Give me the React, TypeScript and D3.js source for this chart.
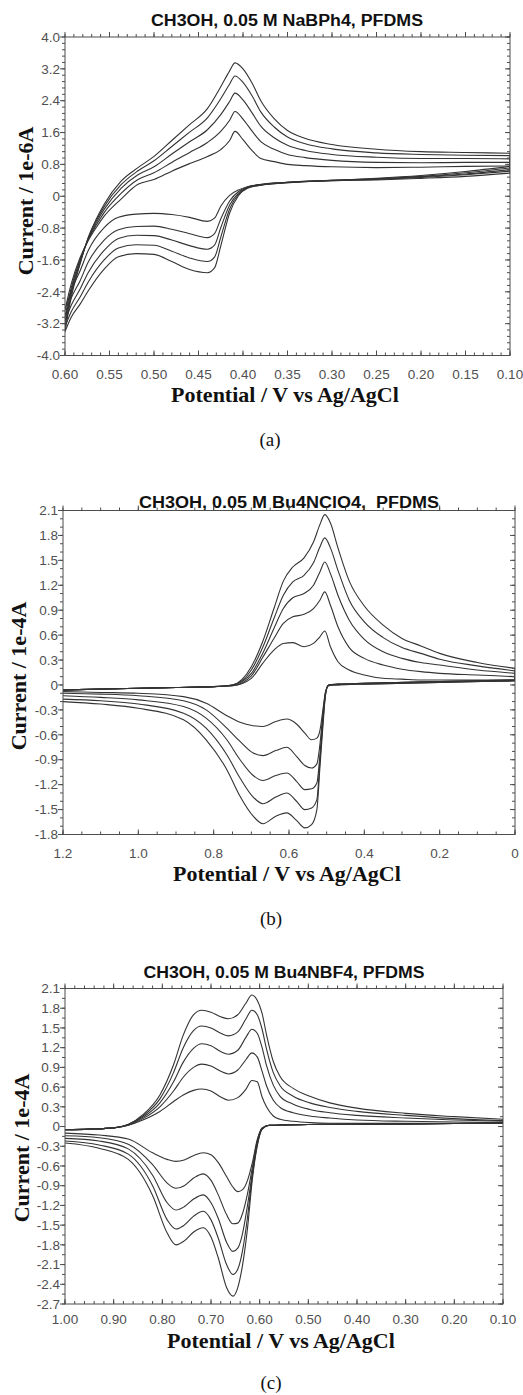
import React from "react";
import * as d3 from "d3";

// ---------- Panel (a) ----------
const aTitle = "CH3OH, 0.05 M NaBPh4, PFDMS";
const aYLabel = "Current / 1e-6A";
const aXTicks = [0.6, 0.55, 0.5, 0.45, 0.4, 0.35, 0.3, 0.25, 0.2, 0.15, 0.1];
const aXTickLabels = ["0.60", "0.55", "0.50", "0.45", "0.40", "0.35", "0.30", "0.25", "0.20", "0.15", "0.10"];
const aYTicks = [4.0, 3.2, 2.4, 1.6, 0.8, 0, -0.8, -1.6, -2.4, -3.2, -4.0];
const aYTickLabels = ["4.0", "3.2", "2.4", "1.6", "0.8", "0", "-0.8", "-1.6", "-2.4", "-3.2", "-4.0"];
const aUpperV = [0.6, 0.593, 0.583, 0.574, 0.565, 0.556, 0.537, 0.518, 0.5, 0.48, 0.46, 0.44, 0.425, 0.415, 0.409, 0.4, 0.39, 0.38, 0.365, 0.35, 0.33, 0.3, 0.25, 0.2, 0.15, 0.1];
const aUpper = [
  [-3.4, -2.54, -1.7, -1.04, -0.58, -0.2, 0.38, 0.72, 1.0, 1.4, 1.8, 2.2, 2.75, 3.15, 3.35, 3.2, 2.85, 2.4, 1.95, 1.65, 1.45, 1.3, 1.18, 1.12, 1.1, 1.08],
  [-3.28, -2.45, -1.67, -1.06, -0.62, -0.26, 0.29, 0.64, 0.89, 1.25, 1.61, 1.97, 2.45, 2.82, 3.02, 2.86, 2.53, 2.12, 1.74, 1.49, 1.32, 1.19, 1.09, 1.05, 1.03, 1.02],
  [-3.15, -2.38, -1.63, -1.08, -0.67, -0.33, 0.2, 0.54, 0.74, 1.06, 1.37, 1.67, 2.05, 2.38, 2.59, 2.42, 2.1, 1.76, 1.47, 1.28, 1.15, 1.05, 0.98, 0.95, 0.95, 0.94],
  [-3.02, -2.3, -1.59, -1.1, -0.73, -0.41, 0.07, 0.42, 0.59, 0.85, 1.1, 1.35, 1.63, 1.91, 2.13, 1.94, 1.64, 1.37, 1.18, 1.05, 0.97, 0.9, 0.85, 0.84, 0.85, 0.85],
  [-2.85, -2.2, -1.54, -1.12, -0.79, -0.5, -0.07, 0.3, 0.42, 0.63, 0.82, 1.0, 1.17, 1.4, 1.63, 1.42, 1.15, 0.95, 0.87, 0.8, 0.77, 0.74, 0.72, 0.73, 0.75, 0.76],
];
const aLowerV = [0.1, 0.15, 0.2, 0.25, 0.3, 0.35, 0.38, 0.395, 0.405, 0.415, 0.425, 0.432, 0.44, 0.46, 0.48, 0.5, 0.52, 0.54, 0.556, 0.574, 0.583, 0.593, 0.6];
const aLower = [
  [0.75, 0.62, 0.52, 0.45, 0.4, 0.34, 0.28, 0.2, 0.02, -0.42, -1.25, -1.8, -1.92, -1.84, -1.64, -1.46, -1.44, -1.52, -1.83, -2.38, -2.71, -3.04, -3.4],
  [0.71, 0.59, 0.5, 0.44, 0.4, 0.34, 0.28, 0.21, 0.05, -0.32, -1.03, -1.53, -1.64, -1.55, -1.38, -1.23, -1.22, -1.3, -1.6, -2.16, -2.53, -2.9, -3.28],
  [0.67, 0.56, 0.49, 0.43, 0.4, 0.35, 0.29, 0.22, 0.08, -0.22, -0.79, -1.23, -1.33, -1.24, -1.1, -0.99, -0.98, -1.06, -1.36, -1.92, -2.33, -2.74, -3.15],
  [0.63, 0.54, 0.47, 0.42, 0.39, 0.35, 0.29, 0.23, 0.12, -0.12, -0.57, -0.94, -1.04, -0.94, -0.83, -0.75, -0.76, -0.84, -1.1, -1.66, -2.12, -2.56, -3.02],
  [0.58, 0.5, 0.45, 0.41, 0.39, 0.35, 0.3, 0.24, 0.16, 0.02, -0.25, -0.55, -0.63, -0.53, -0.46, -0.43, -0.45, -0.53, -0.79, -1.37, -1.87, -2.38, -2.85],
];

// ---------- Panel (b) ----------
const bTitle = "CH3OH, 0.05 M Bu4NClO4,  PFDMS";
const bYLabel = "Current / 1e-4A";
const bXTicks = [1.2, 1.0, 0.8, 0.6, 0.4, 0.2, 0];
const bXTickLabels = ["1.2", "1.0", "0.8", "0.6", "0.4", "0.2", "0"];
const bYTicks = [2.1, 1.8, 1.5, 1.2, 0.9, 0.6, 0.3, 0, -0.3, -0.6, -0.9, -1.2, -1.5, -1.8];
const bYTickLabels = ["2.1", "1.8", "1.5", "1.2", "0.9", "0.6", "0.3", "0", "-0.3", "-0.6", "-0.9", "-1.2", "-1.5", "-1.8"];
const bUpperV = [1.2, 1.0, 0.9, 0.8, 0.75, 0.7, 0.67, 0.64, 0.615, 0.59, 0.56, 0.535, 0.518, 0.505, 0.49, 0.47, 0.44, 0.4, 0.35, 0.3, 0.25, 0.2, 0.1, 0.0];
const bUpper = [
  [-0.06, -0.04, -0.03, -0.02, 0.0, 0.22, 0.52, 0.92, 1.25, 1.42, 1.53, 1.72, 1.93, 2.05, 1.95, 1.65, 1.25, 0.95, 0.72, 0.56, 0.47, 0.38, 0.27, 0.2],
  [-0.06, -0.04, -0.03, -0.02, 0.0, 0.18, 0.45, 0.8, 1.08, 1.24, 1.32, 1.47, 1.66, 1.77, 1.65, 1.38, 1.02, 0.76, 0.57, 0.45, 0.38, 0.31, 0.23, 0.17],
  [-0.06, -0.04, -0.03, -0.02, 0.0, 0.14, 0.38, 0.68, 0.92, 1.05, 1.1, 1.2, 1.36, 1.48, 1.34, 1.08, 0.78, 0.55, 0.4, 0.32, 0.27, 0.24, 0.18, 0.14],
  [-0.06, -0.04, -0.03, -0.02, -0.01, 0.11, 0.33, 0.56, 0.74, 0.82, 0.85, 0.92, 1.02, 1.12, 0.96, 0.7, 0.45, 0.32, 0.24, 0.19, 0.16, 0.14, 0.12, 0.1],
  [-0.06, -0.04, -0.03, -0.02, -0.01, 0.08, 0.26, 0.42, 0.5, 0.51, 0.46, 0.5, 0.58, 0.65, 0.46, 0.28, 0.18, 0.12, 0.08, 0.07, 0.06, 0.06, 0.06, 0.06],
];
const bLowerV = [0.0, 0.2, 0.4, 0.47, 0.495, 0.503, 0.51, 0.518, 0.526, 0.54, 0.558, 0.58, 0.606, 0.635, 0.669, 0.695, 0.73, 0.765, 0.82, 0.88, 1.0, 1.1, 1.2];
const bLower = [
  [0.06, 0.04, 0.02, 0.01, 0.0, -0.12, -0.5, -1.0, -1.5, -1.68, -1.72, -1.63, -1.54, -1.58, -1.67, -1.58, -1.34, -1.02, -0.66, -0.42, -0.28, -0.23, -0.2],
  [0.06, 0.04, 0.02, 0.01, 0.0, -0.11, -0.45, -0.92, -1.38, -1.48, -1.5, -1.4, -1.3, -1.35, -1.43, -1.35, -1.12, -0.84, -0.52, -0.34, -0.23, -0.19, -0.17],
  [0.05, 0.04, 0.02, 0.01, 0.0, -0.1, -0.4, -0.85, -1.18, -1.25, -1.26, -1.16, -1.06, -1.09, -1.15, -1.09, -0.9, -0.66, -0.4, -0.26, -0.18, -0.15, -0.13],
  [0.05, 0.03, 0.01, 0.0, -0.01, -0.09, -0.35, -0.72, -0.95, -1.0, -0.97, -0.86, -0.75, -0.79, -0.85, -0.82, -0.68, -0.52, -0.3, -0.19, -0.13, -0.11, -0.1],
  [0.05, 0.03, 0.01, 0.0, -0.01, -0.08, -0.3, -0.55, -0.64, -0.66, -0.58, -0.47, -0.41, -0.44, -0.5, -0.49, -0.45, -0.37, -0.22, -0.14, -0.1, -0.09, -0.08],
];

// ---------- Panel (c) ----------
const cTitle = "CH3OH, 0.05 M Bu4NBF4, PFDMS";
const cYLabel = "Current / 1e-4A";
const cXTicks = [1.0, 0.9, 0.8, 0.7, 0.6, 0.5, 0.4, 0.3, 0.2, 0.1];
const cXTickLabels = ["1.00", "0.90", "0.80", "0.70", "0.60", "0.50", "0.40", "0.30", "0.20", "0.10"];
const cYTicks = [2.1, 1.8, 1.5, 1.2, 0.9, 0.6, 0.3, 0, -0.3, -0.6, -0.9, -1.2, -1.5, -1.8, -2.1, -2.4, -2.7];
const cYTickLabels = ["2.1", "1.8", "1.5", "1.2", "0.9", "0.6", "0.3", "0", "-0.3", "-0.6", "-0.9", "-1.2", "-1.5", "-1.8", "-2.1", "-2.4", "-2.7"];
const cUpperV = [1.0, 0.95, 0.9, 0.87, 0.84, 0.805, 0.777, 0.757, 0.736, 0.719, 0.7, 0.68, 0.664, 0.645, 0.628, 0.616, 0.605, 0.595, 0.586, 0.572, 0.558, 0.531, 0.497, 0.456, 0.4, 0.3, 0.2, 0.1];
const cUpper = [
  [-0.05, -0.04, -0.02, 0.03, 0.18, 0.48, 0.94, 1.39, 1.7, 1.77, 1.74, 1.67, 1.64, 1.7, 1.88, 2.0, 1.92, 1.72, 1.4, 0.99, 0.76, 0.58, 0.46, 0.36, 0.28, 0.2, 0.15, 0.11],
  [-0.05, -0.04, -0.02, 0.03, 0.16, 0.42, 0.82, 1.2, 1.46, 1.53, 1.5, 1.42, 1.38, 1.44, 1.64, 1.77, 1.7, 1.48, 1.18, 0.82, 0.62, 0.46, 0.36, 0.29, 0.23, 0.17, 0.12, 0.09],
  [-0.05, -0.04, -0.02, 0.03, 0.14, 0.36, 0.68, 0.98, 1.19, 1.26, 1.23, 1.14, 1.1, 1.16, 1.36, 1.48, 1.42, 1.2, 0.93, 0.63, 0.46, 0.34, 0.26, 0.21, 0.17, 0.13, 0.1, 0.08],
  [-0.05, -0.04, -0.02, 0.02, 0.12, 0.3, 0.54, 0.75, 0.9, 0.95, 0.92, 0.84, 0.8, 0.86, 1.02, 1.12, 1.06, 0.84, 0.62, 0.4, 0.29, 0.21, 0.16, 0.13, 0.1, 0.08, 0.07, 0.06],
  [-0.05, -0.04, -0.02, 0.02, 0.1, 0.23, 0.38, 0.48, 0.55, 0.57, 0.54, 0.45, 0.4, 0.44, 0.57, 0.7, 0.68, 0.45, 0.3, 0.16, 0.11, 0.08, 0.06, 0.05, 0.05, 0.05, 0.05, 0.05],
];
const cLowerV = [0.1, 0.3, 0.5, 0.58, 0.595, 0.605, 0.615, 0.625, 0.635, 0.645, 0.655, 0.668, 0.685, 0.7, 0.716, 0.735, 0.755, 0.772, 0.79, 0.82, 0.87, 0.93, 1.0];
const cLower = [
  [0.05, 0.04, 0.03, 0.02, -0.04, -0.3, -0.8, -1.55, -2.1, -2.45, -2.58, -2.45, -2.0, -1.68, -1.54, -1.6, -1.74, -1.8, -1.62, -1.05, -0.5, -0.33, -0.25],
  [0.05, 0.04, 0.03, 0.02, -0.04, -0.28, -0.75, -1.38, -1.88, -2.17, -2.25, -2.1, -1.7, -1.42, -1.29, -1.36, -1.5, -1.56, -1.42, -0.9, -0.42, -0.28, -0.22],
  [0.05, 0.04, 0.03, 0.02, -0.03, -0.25, -0.7, -1.2, -1.62, -1.85, -1.9, -1.76, -1.4, -1.16, -1.04, -1.1, -1.22, -1.27, -1.16, -0.74, -0.34, -0.22, -0.18],
  [0.05, 0.04, 0.03, 0.02, -0.03, -0.22, -0.62, -1.02, -1.32, -1.47, -1.48, -1.34, -1.04, -0.82, -0.72, -0.78, -0.9, -0.94, -0.86, -0.58, -0.27, -0.17, -0.14],
  [0.05, 0.04, 0.03, 0.02, -0.02, -0.2, -0.55, -0.82, -0.96, -0.99, -0.92, -0.76, -0.55, -0.43, -0.4, -0.44, -0.51, -0.53, -0.5, -0.4, -0.19, -0.13, -0.1],
];

const XLABEL = "Potential / V vs Ag/AgCl";

type PanelProps = {
  id: string;
  title: string;
  titleX: number;
  titleY: number;
  titleW: number;
  left: number;
  right: number;
  top: number;
  bottom: number;
  xDomain: [number, number];
  yDomain: [number, number];
  xTicks: number[];
  xTickLabels: string[];
  xMinor: number[];
  yTicks: number[];
  yTickLabels: string[];
  yMinor: number[];
  xTickLabelY: number;
  xLabelX: number;
  xLabelY: number;
  yLabel: string;
  yLabelX: number;
  yLabelY: number;
  caption: string;
  captionX: number;
  captionY: number;
  upperV: number[];
  upper: number[][];
  lowerV: number[];
  lower: number[][];
};

const AXIS = "#4d4d4d";
const TICKTXT = "#505050";
const CURVE = "#333";

function Panel(p: PanelProps) {
  const x = d3.scaleLinear().domain(p.xDomain).range([p.left, p.right]);
  const y = d3.scaleLinear().domain(p.yDomain).range([p.bottom, p.top]);
  const line = d3
    .line<[number, number]>()
    .x((d) => d[0])
    .y((d) => d[1])
    .curve(d3.curveMonotoneX);
  const branch = (vs: number[], is: number[]) => {
    const pts: [number, number][] = vs.map((v, i) => [x(v), y(is[i])]);
    return pts.slice().sort((a, b) => a[0] - b[0]);
  };
  const major = 5;
  const minor = 3;
  return (
    <g>
      <defs>
        <clipPath id={p.id + "-clip"}>
          <rect x={p.left} y={p.top} width={p.right - p.left} height={p.bottom - p.top} />
        </clipPath>
      </defs>
      <text
        x={p.titleX}
        y={p.titleY}
        textAnchor="middle"
        fontFamily="'Liberation Sans', Arial, sans-serif"
        fontWeight="bold"
        fontSize={16}
        fill="#111"
        textLength={p.titleW}
        lengthAdjust="spacingAndGlyphs"
        style={{ whiteSpace: "pre" }}
      >
        {p.title}
      </text>
      {/* curves */}
      <g clipPath={`url(#${p.id}-clip)`} fill="none" stroke={CURVE} strokeWidth={1.1}>
        {p.upper.map((u, k) => {
          const up = p.upperV.map((v, i) => [x(v), y(u[i])] as [number, number]);
          const lo = p.lowerV.map((v, i) => [x(v), y(p.lower[k][i])] as [number, number]);
          const upEnd = up[up.length - 1];
          const loStart = lo[0];
          return (
            <g key={k}>
              <path d={line(branch(p.upperV, u)) || ""} />
              <path d={line(branch(p.lowerV, p.lower[k])) || ""} />
              <line x1={upEnd[0]} y1={upEnd[1]} x2={loStart[0]} y2={loStart[1]} />
            </g>
          );
        })}
      </g>
      {/* frame */}
      <rect
        x={p.left}
        y={p.top}
        width={p.right - p.left}
        height={p.bottom - p.top}
        fill="none"
        stroke={AXIS}
        strokeWidth={1}
      />
      {/* ticks */}
      <g stroke={AXIS} strokeWidth={1}>
        {p.xMinor.map((v, i) => (
          <g key={"xm" + i}>
            <line x1={x(v)} x2={x(v)} y1={p.top} y2={p.top - minor} />
            <line x1={x(v)} x2={x(v)} y1={p.bottom} y2={p.bottom - minor} />
          </g>
        ))}
        {p.xTicks.map((v, i) => (
          <g key={"xM" + i}>
            <line x1={x(v)} x2={x(v)} y1={p.top} y2={p.top - major} />
            <line x1={x(v)} x2={x(v)} y1={p.bottom} y2={p.bottom - major} />
          </g>
        ))}
        {p.yMinor.map((v, i) => (
          <g key={"ym" + i}>
            <line x1={p.left - minor} x2={p.left} y1={y(v)} y2={y(v)} />
            <line x1={p.right - minor} x2={p.right} y1={y(v)} y2={y(v)} />
          </g>
        ))}
        {p.yTicks.map((v, i) => (
          <g key={"yM" + i}>
            <line x1={p.left - major} x2={p.left} y1={y(v)} y2={y(v)} />
            <line x1={p.right - major} x2={p.right} y1={y(v)} y2={y(v)} />
          </g>
        ))}
      </g>
      <g fontFamily="'Liberation Sans', Arial, sans-serif" fontSize={13.5} fill={TICKTXT}>
        {p.xTicks.map((v, i) => (
          <text key={"xl" + i} x={x(v)} y={p.xTickLabelY} textAnchor="middle">
            {p.xTickLabels[i]}
          </text>
        ))}
        {p.yTicks.map((v, i) => (
          <text key={"yl" + i} x={p.left - 5} y={y(v)} dy="0.35em" textAnchor="end">
            {p.yTickLabels[i]}
          </text>
        ))}
      </g>
      <text
        x={p.xLabelX}
        y={p.xLabelY}
        textAnchor="middle"
        fontFamily="'Liberation Serif', 'Times New Roman', serif"
        fontWeight="bold"
        fontSize={22}
        fill="#111"
      >
        {XLABEL}
      </text>
      <text
        transform={`translate(${p.yLabelX},${p.yLabelY}) rotate(-90)`}
        textAnchor="middle"
        dy="0.35em"
        fontFamily="'Liberation Serif', 'Times New Roman', serif"
        fontWeight="bold"
        fontSize={22}
        fill="#111"
      >
        {p.yLabel}
      </text>
      <text
        x={p.captionX}
        y={p.captionY}
        textAnchor="middle"
        fontFamily="'Liberation Serif', 'Times New Roman', serif"
        fontSize={19}
        fill="#111"
      >
        {p.caption}
      </text>
    </g>
  );
}

export default function App() {
  return (
    <svg
      width={523}
      height={1395}
      style={{ position: "absolute", left: 0, top: 0, background: "#fff", display: "block" }}
    >
      <rect x={0} y={0} width={523} height={1395} fill="#fff" />
      <Panel
        id="pa"
        title={aTitle}
        titleX={287}
        titleY={26}
        titleW={272}
        left={65}
        right={510}
        top={37}
        bottom={355.5}
        xDomain={[0.6, 0.1]}
        yDomain={[-4, 4]}
        xTicks={aXTicks}
        xTickLabels={aXTickLabels}
        xMinor={d3.range(0.1, 0.6001, 0.01)}
        yTicks={aYTicks}
        yTickLabels={aYTickLabels}
        yMinor={d3.range(-4, 4.001, 0.16)}
        xTickLabelY={378.5}
        xLabelX={285}
        xLabelY={402}
        yLabel={aYLabel}
        yLabelX={25}
        yLabelY={201}
        caption="(a)"
        captionX={270}
        captionY={446}
        upperV={aUpperV}
        upper={aUpper}
        lowerV={aLowerV}
        lower={aLower}
      />
      <Panel
        id="pb"
        title={bTitle}
        titleX={289}
        titleY={508}
        titleW={300}
        left={63}
        right={515}
        top={510.5}
        bottom={834.5}
        xDomain={[1.2, 0]}
        yDomain={[-1.8, 2.1]}
        xTicks={bXTicks}
        xTickLabels={bXTickLabels}
        xMinor={d3.range(0, 1.2001, 0.05)}
        yTicks={bYTicks}
        yTickLabels={bYTickLabels}
        yMinor={d3.range(-1.8, 2.1001, 0.1)}
        xTickLabelY={857.5}
        xLabelX={287}
        xLabelY={881}
        yLabel={bYLabel}
        yLabelX={18}
        yLabelY={676}
        caption="(b)"
        captionX={271}
        captionY={925}
        upperV={bUpperV}
        upper={bUpper}
        lowerV={bLowerV}
        lower={bLower}
      />
      <Panel
        id="pc"
        title={cTitle}
        titleX={284}
        titleY={978}
        titleW={281}
        left={65}
        right={503}
        top={988.5}
        bottom={1304}
        xDomain={[1.0, 0.1]}
        yDomain={[-2.7, 2.1]}
        xTicks={cXTicks}
        xTickLabels={cXTickLabels}
        xMinor={d3.range(0.1, 1.0001, 0.02)}
        yTicks={cYTicks}
        yTickLabels={cYTickLabels}
        yMinor={d3.range(-2.7, 2.1001, 0.15)}
        xTickLabelY={1324}
        xLabelX={281}
        xLabelY={1348}
        yLabel={cYLabel}
        yLabelX={21}
        yLabelY={1148}
        caption="(c)"
        captionX={271}
        captionY={1389}
        upperV={cUpperV}
        upper={cUpper}
        lowerV={cLowerV}
        lower={cLower}
      />
    </svg>
  );
}
